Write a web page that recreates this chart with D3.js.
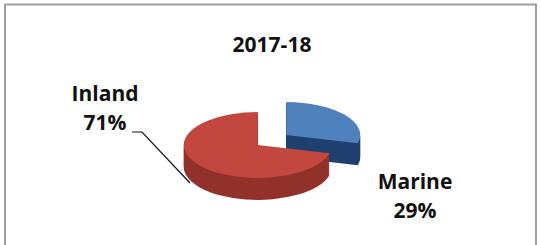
<!DOCTYPE html>
<html>
<head>
<meta charset="utf-8">
<script src="https://cdn.jsdelivr.net/npm/d3@7"></script>
<style>
  body { margin: 0; background: #fff; }
  svg { display: block; }
  text { font-family: "Open Sans", "DejaVu Sans", sans-serif; font-weight: 700; fill: #111; }
</style>
</head>
<body>
<svg id="fig" width="541" height="245"></svg>
<script>
// data
const title = "2017-18";
const categories = ["Marine", "Inland"];
const shares = [29, 71];
const topColors = ["#4f81bd", "#c2473f"];
const sideColors = ["#1f416f", "#93322c"];

const svg = d3.select("#fig");

// frame
svg.append("rect")
    .attr("x", 5).attr("y", 4.5)
    .attr("width", 531).attr("height", 250)
    .attr("fill", "#fff")
    .attr("stroke", "#9f9f9f")
    .attr("stroke-width", 2);

svg.append("text")
    .attr("x", 272).attr("y", 52)
    .attr("text-anchor", "middle")
    .style("font-size", "21px")
    .text(title);

// pseudo 3d pie: d3 arcs squashed vertically, side made of stacked copies
const cx = 272, cy = 140;
const rx = 74, ry = 33;
const depth = 22;
const squash = ry / rx;
const explode = 18;

const pie = d3.pie().sort(null).value(d => d)(shares);
const arc = d3.arc().innerRadius(0).outerRadius(rx);

const slices = pie.map((p, i) => {
    const mid = (p.startAngle + p.endAngle) / 2;
    return {
        p, i,
        ox: Math.sin(mid) * explode,
        oy: -Math.cos(mid) * explode * squash
    };
});

// blue (back) first, red (front) last
slices.forEach(s => {
    const g = svg.append("g");
    for (let k = depth; k >= 1; k--) {
        g.append("path")
            .attr("d", arc(s.p))
            .attr("fill", sideColors[s.i])
            .attr("transform", `translate(${cx + s.ox},${cy + s.oy + k}) scale(1,${squash})`);
    }
    g.append("path")
        .attr("d", arc(s.p))
        .attr("fill", topColors[s.i])
        .attr("transform", `translate(${cx + s.ox},${cy + s.oy}) scale(1,${squash})`);
});

// labels
const labels = [
    {name: categories[1], pct: shares[1] + "%", x: 105, y: 101},
    {name: categories[0], pct: shares[0] + "%", x: 415, y: 189}
];
labels.forEach(l => {
    const t = svg.append("text")
        .attr("text-anchor", "middle")
        .style("font-size", "21px");
    t.append("tspan").attr("x", l.x).attr("y", l.y).text(l.name);
    t.append("tspan").attr("x", l.x).attr("y", l.y + 29).text(l.pct);
});

// leader line for Inland
svg.append("polyline")
    .attr("points", "132,132 142,132 190,183")
    .attr("fill", "none")
    .attr("stroke", "#111")
    .attr("stroke-width", 1.2);
</script>
</body>
</html>
